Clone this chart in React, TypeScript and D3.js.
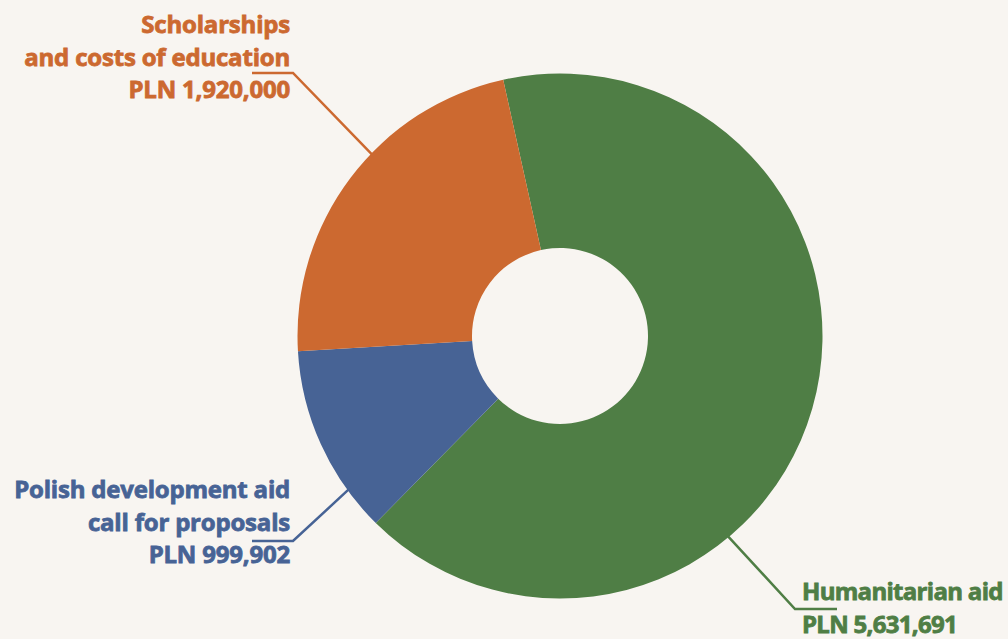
import React from "react";
import * as d3 from "d3";

const categories = ["Humanitarian aid", "Polish development aid call for proposals", "Scholarships and costs of education"];
const values = [5631691, 999902, 1920000];
const colors = ["#4f7e45", "#476395", "#cc6930"];
const labelLines = [
  ["Humanitarian aid", "PLN 5,631,691"],
  ["Polish development aid", "call for proposals", "PLN 999,902"],
  ["Scholarships", "and costs of education", "PLN 1,920,000"],
];
// leader line anchor angle on the rim (degrees clockwise from top), elbow position, and label side
const leaderAngles = [140, 234, 314];
const elbows = [
  [795, 609, 837],
  [293, 541, 252],
  [293, 73, 252],
];
const labelPos = [
  [802, 600, "start"],
  [290, 498, "end"],
  [290, 33, "end"],
];
const labelSpacing = [-0.7, -0.2, -0.2];

const W = 1008, H = 639;
const cx = 560, cy = 336, R = 262.5, r = 88;
const startDeg = -12.5;

export default function App() {
  const pie = d3.pie<number>().sort(null)
    .startAngle((startDeg * Math.PI) / 180)
    .endAngle(((startDeg + 360) * Math.PI) / 180);
  const arcs = pie(values);
  const arc = d3.arc<d3.PieArcDatum<number>>().innerRadius(r).outerRadius(R);
  const line = d3.line();
  return (
    <div style={{ position: "fixed", left: 0, top: 0, width: W, height: H, background: "#f8f5f1" }}>
      <svg width={W} height={H} style={{ display: "block" }}>
        <rect width={W} height={H} fill="#f8f5f1" />
        <g transform={`translate(${cx},${cy})`}>
          {arcs.map((a, i) => (
            <path key={categories[i]} d={arc(a) || ""} fill={colors[i]} />
          ))}
        </g>
        {arcs.map((a, i) => {
          const ang = (leaderAngles[i] * Math.PI) / 180;
          const p0: [number, number] = [cx + (R - 1) * Math.sin(ang), cy - (R - 1) * Math.cos(ang)];
          const e = elbows[i];
          const d = line([p0, [e[0], e[1]], [e[2], e[1]]]) || "";
          return <path key={"l" + i} d={d} fill="none" stroke={colors[i]} strokeWidth={2.5} />;
        })}
        {labelLines.map((lines, i) => {
          const [x, y, anchor] = labelPos[i] as [number, number, string];
          return (
            <text key={"t" + i} x={x} y={y} textAnchor={anchor as any} fill={colors[i]}
              stroke={colors[i]} strokeWidth={0.8}
              style={{ fontFamily: "'Open Sans', sans-serif", fontWeight: 700, fontSize: 24, letterSpacing: labelSpacing[i] }}>
              {lines.map((s, j) => (
                <tspan key={j} x={x} y={y + j * 32.5}>{s}</tspan>
              ))}
            </text>
          );
        })}
      </svg>
    </div>
  );
}
